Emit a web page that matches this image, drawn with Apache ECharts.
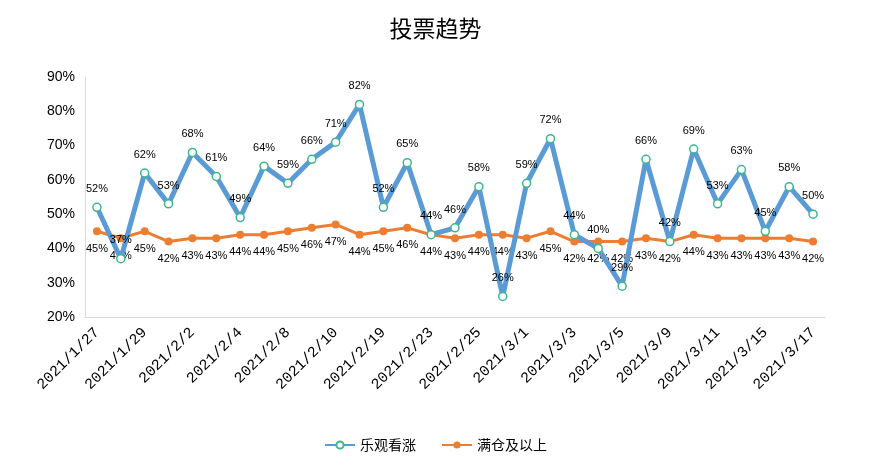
<!DOCTYPE html>
<html><head><meta charset="utf-8">
<script src="https://cdn.jsdelivr.net/npm/echarts@6/dist/echarts.min.js"></script>
<style>html,body{margin:0;padding:0;background:#fff}#c{width:871px;height:472px}</style>
</head><body><div id="c"></div>
<script>
const categories = ['2021/1/27','2021/1/28','2021/1/29','2021/2/1','2021/2/2','2021/2/3','2021/2/4','2021/2/5','2021/2/8','2021/2/9','2021/2/10','2021/2/18','2021/2/19','2021/2/22','2021/2/23','2021/2/24','2021/2/25','2021/2/26','2021/3/1','2021/3/2','2021/3/3','2021/3/4','2021/3/5','2021/3/8','2021/3/9','2021/3/10','2021/3/11','2021/3/12','2021/3/15','2021/3/16','2021/3/17'];
const bullish = [52,37,62,53,68,61,49,64,59,66,71,82,52,65,44,46,58,26,59,72,44,40,29,66,42,69,53,63,45,58,50];
const fullPos = [45,43,45,42,43,43,44,44,45,46,47,44,45,46,44,43,44,44,43,45,42,42,42,43,42,44,43,43,43,43,42];
const yTicks = {min:20, max:90, interval:10};

const chart = echarts.init(document.getElementById('c'));
const font = '"Noto Sans CJK SC", sans-serif';
const labelFont = '"Liberation Sans", sans-serif';
chart.setOption({
  animation:false,
  title:{text:'投票趋势', left:'center', top:12, textStyle:{fontFamily:font, fontSize:23, fontWeight:'normal', color:'#000'}},
  grid:{left:85, right:46, top:77, bottom:155},
  legend:{bottom:15, left:'center', itemWidth:30, itemHeight:9, itemGap:25,
    textStyle:{fontFamily:font, fontSize:14, color:'#000'},
    data:['乐观看涨','满仓及以上']},
  xAxis:{type:'category', data:categories, boundaryGap:true,
    axisLine:{lineStyle:{color:'#d9d9d9'}}, axisTick:{show:false},
    axisLabel:{interval:1, rotate:45, color:'#000', fontSize:15, fontFamily:'"Liberation Mono", monospace', margin:13}},
  yAxis:{type:'value', min:yTicks.min, max:yTicks.max, interval:yTicks.interval,
    axisLine:{show:true, lineStyle:{color:'#d9d9d9'}}, axisTick:{show:false}, splitLine:{show:false},
    axisLabel:{formatter:'{value}%', color:'#000', fontSize:14, fontFamily:labelFont, margin:10}},
  series:[
    {name:'乐观看涨', type:'line', data:bullish, symbol:'circle', symbolSize:8,
      lineStyle:{width:5, color:'#5B9BD5'},
      itemStyle:{color:'#fff', borderColor:'#3CB88A', borderWidth:1.5},
      label:{show:true, position:'top', formatter:'{c}%', color:'#000', fontSize:11, fontFamily:labelFont, distance:8},
      z:3},
    {name:'满仓及以上', type:'line', data:fullPos, symbol:'circle', symbolSize:8,
      lineStyle:{width:3, color:'#ED7D31'},
      itemStyle:{color:'#ED7D31'},
      label:{show:true, position:'bottom', formatter:'{c}%', color:'#000', fontSize:11, fontFamily:labelFont, distance:8},
      z:2}
  ]
});
</script></body></html>
